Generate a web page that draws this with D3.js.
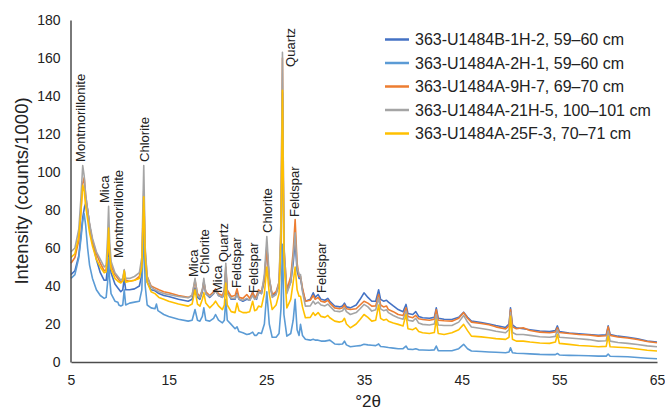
<!DOCTYPE html>
<html>
<head>
<meta charset="utf-8">
<script src="https://cdn.jsdelivr.net/npm/d3@7"></script>
<style>
  html, body { margin: 0; padding: 0; background: #fff; }
  svg { display: block; font-family: "Liberation Sans", Arial, sans-serif; }
</style>
</head>
<body>
<svg id="chart" width="665" height="413"></svg>
<script>
// X-ray diffraction patterns, intensity in counts/1000 against °2θ
const seriesNames = [
  "363-U1484B-1H-2, 59–60 cm",
  "363-U1484A-2H-1, 59–60 cm",
  "363-U1484A-9H-7, 69–70 cm",
  "363-U1484A-21H-5, 100–101 cm",
  "363-U1484A-25F-3, 70–71 cm"
];
const seriesColors = ["#4472C4", "#5B9BD5", "#ED7D31", "#A5A5A5", "#FFC000"];

const xTicks = [5, 15, 25, 35, 45, 55, 65];
const yTicks = [0, 20, 40, 60, 80, 100, 120, 140, 160, 180];

// [°2θ, counts/1000]
const b1H2 = [[5,46],[5.4,48],[5.8,56],[6,66],[6.2,76],[6.4,82],[6.55,84],[6.7,80],[6.9,72],[7.2,63],[7.6,54],[8,47],[8.4,43],[8.6,43],[8.75,50],[8.85,62],[8.95,55],[9.1,47],[9.5,41],[9.8,39],[10.1,37],[10.3,38],[10.45,44],[10.6,38],[11,38],[11.5,38.5],[12,40],[12.25,46],[12.45,78],[12.6,52],[12.8,42],[13.2,38],[13.6,37.5],[14,36],[14.5,35],[15,34.5],[16,33],[17,32],[17.4,33],[17.7,39],[17.95,34],[18.2,33],[18.45,37],[18.6,42.5],[18.8,36],[19.2,34],[19.6,36],[19.8,38],[20.1,35],[20.5,34],[20.7,36],[20.85,47.8],[21,37],[21.4,33],[21.8,33],[22,36.4],[22.2,33],[22.6,32],[23,33],[23.3,32.5],[23.6,37],[23.8,34],[24,33],[24.2,37],[24.5,36],[24.8,43],[25.05,61],[25.3,43],[25.6,35],[26,36.4],[26.3,40],[26.5,60],[26.65,141.7],[26.8,55],[27.1,37],[27.5,42],[27.75,52],[27.95,64],[28.15,48],[28.35,44],[28.5,44],[28.7,38],[29,32],[29.5,33],[29.8,36.4],[30,34],[30.3,35.5],[30.6,33],[31,32.5],[31.3,33.5],[31.5,32],[32,29.5],[32.5,29],[32.8,29.5],[33,31],[33.2,29],[33.6,28.5],[34.2,30],[34.6,33],[35,36.4],[35.4,34],[35.8,32],[36.2,32],[36.5,38],[36.7,33],[37,32],[37.3,32.5],[37.5,31.5],[38,29.5],[38.5,27.6],[39,26.5],[39.3,30.3],[39.5,25.5],[40,25],[40.3,26.5],[40.6,24],[41,23.3],[41.7,23],[42.2,23.5],[42.4,28.5],[42.6,23],[43.2,22.5],[44,22.4],[44.7,23.5],[45.2,26.2],[45.6,23.5],[46,21.5],[47,20.8],[47.8,20],[48.5,19.2],[49.5,18.2],[49.85,20],[50,28.5],[50.2,19.5],[50.6,18],[51.3,17.5],[52,17],[53,16.3],[54,16],[54.6,16.5],[54.8,19],[55,16],[56,15.3],[57,14.9],[58,14.5],[59,14],[59.8,14.3],[60,19],[60.2,14.5],[61,13.6],[62,13],[63,12.2],[64,11],[65,10.5]];

const a2H1 = [[5,44],[5.4,46],[5.8,55],[6,64],[6.2,74],[6.35,78],[6.5,72],[6.7,60],[6.9,51],[7.2,44],[7.6,38],[8,35],[8.4,33.5],[8.6,34],[8.75,42],[8.85,55],[8.95,44],[9.1,36],[9.5,32],[9.8,31.5],[9.9,30],[10.1,29.5],[10.3,30],[10.45,38],[10.6,30],[11,31],[11.5,31.5],[12,32],[12.25,38],[12.45,70],[12.6,40],[12.8,30],[13.2,28.5],[13.6,28],[13.75,30.5],[13.9,27],[14.5,25],[15,24],[16,22.5],[17,21.5],[17.4,22],[17.7,27.6],[17.95,22],[18.2,21.5],[18.45,24],[18.6,28.5],[18.8,22],[19.2,21.5],[19.6,23],[19.8,25],[20.1,22],[20.5,20.6],[20.7,22],[20.85,33],[21,22],[21.4,19.8],[21.8,17.5],[22,18.5],[22.2,16],[22.6,15.4],[23,14.5],[23.3,14.8],[23.6,15.7],[23.8,14],[24,14],[24.2,15.4],[24.5,15],[24.8,20],[25.05,37],[25.3,20],[25.6,13],[26,13],[26.3,15],[26.5,28],[26.65,62],[26.8,25],[27.1,13.6],[27.5,15],[27.75,22],[27.95,33],[28.15,17],[28.35,14],[28.5,19.8],[28.7,14],[29,12],[29.5,11.5],[29.8,12],[30,11.5],[30.3,11.5],[30.6,11],[31,11],[31.5,11.5],[32,9.5],[32.5,9.3],[32.8,9.5],[33,11],[33.2,9],[33.6,8],[34.2,8.4],[34.6,8.6],[35,9.3],[35.4,9],[35.8,8.8],[36.2,8.6],[36.5,9.5],[36.7,8.2],[37,8],[37.5,7.6],[38,7.3],[38.5,7],[39,7],[39.3,8.4],[39.5,6.8],[40,6.6],[40.3,7],[40.6,6.4],[41,6.3],[41.7,6.2],[42.2,6.4],[42.4,8.4],[42.6,6],[43.2,5.9],[44,5.9],[44.7,7],[45.2,9.3],[45.6,7],[46,5.8],[47,5.5],[47.8,5.3],[48.5,5.1],[49.5,4.9],[49.85,5.3],[50,7.5],[50.2,4.9],[50.6,4.6],[51.3,4.5],[52,4.3],[53,4],[54,3.9],[54.6,3.9],[54.8,4.5],[55,3.7],[56,3.5],[57,3.4],[58,3.3],[59,3.1],[59.8,3.1],[60,4.2],[60.2,3],[61,2.9],[62,2.8],[63,2.4],[64,2],[65,1.7]];

const a9H7 = [[5,52],[5.4,55],[5.8,64],[6,78],[6.2,94],[6.35,97],[6.5,88],[6.7,80],[6.9,72],[7.2,64],[7.6,57],[8,52],[8.4,48],[8.6,48.5],[8.75,58],[8.85,70],[8.95,58],[9.1,51],[9.5,46],[9.8,44],[10.1,42],[10.3,43],[10.45,48],[10.6,43],[11,42.5],[11.5,43],[12,45],[12.25,52],[12.45,90],[12.6,58],[12.8,45],[13.2,40],[13.6,39],[14,38],[14.5,37],[15,36.4],[16,35],[17,34],[17.4,35],[17.7,43],[17.95,36],[18.2,34.5],[18.45,38],[18.6,42],[18.8,37],[19.2,35],[19.6,37],[19.8,38.5],[20.1,36],[20.5,35],[20.7,38],[20.85,50],[21,38],[21.4,34.5],[21.8,35],[22,38.5],[22.2,34],[22.6,33.5],[23,35.5],[23.3,33.5],[23.6,36.5],[23.8,34],[24,35],[24.2,38],[24.5,37],[24.8,44],[25.05,60],[25.3,44],[25.6,35.5],[26,37],[26.3,42],[26.5,70],[26.65,160],[26.8,60],[27.1,38],[27.5,45],[27.75,58],[27.95,75],[28.15,52],[28.35,45],[28.5,45],[28.7,39],[29,32],[29.5,32.5],[29.8,35],[30,33],[30.3,34],[30.6,32],[31,31.5],[31.3,32.5],[31.5,31],[32,28.5],[32.5,28],[32.8,28.5],[33,30],[33.2,28],[33.6,27.6],[34.2,28],[34.6,30],[35,32],[35.4,31],[35.8,29.4],[36.2,29.5],[36.5,35.5],[36.7,30],[37,29],[37.3,29.5],[37.5,27.6],[38,26.5],[38.5,25],[39,24.5],[39.3,28.5],[39.5,24],[40,23.3],[40.3,24.5],[40.6,22.8],[41,22.4],[41.7,22],[42.2,22.5],[42.4,27.5],[42.6,22],[43.2,21.7],[44,21.5],[44.7,23],[45.2,26],[45.6,23],[46,21],[47,20.3],[47.8,19.6],[48.5,18.5],[49.5,17.4],[49.85,19],[50,27.6],[50.2,18.5],[50.6,17.5],[51.3,18],[52,16.6],[53,15.7],[54,15.4],[54.6,15.8],[54.8,18],[55,15.5],[56,15],[57,14.5],[58,14.2],[59,13.6],[59.8,13.8],[60,18.5],[60.2,14],[61,13.2],[62,12.6],[63,11.8],[64,10.8],[65,10.1]];

const a21H5 = [[5,58],[5.4,60],[5.8,70],[6,85],[6.2,103.4],[6.35,98],[6.5,88],[6.7,80],[6.9,73],[7.2,65],[7.6,58],[8,54],[8.4,50],[8.6,51],[8.75,66],[8.85,82],[8.95,64],[9.1,53],[9.5,47],[9.8,45],[10.1,43],[10.3,44],[10.45,48.6],[10.6,44],[11,44],[11.5,45],[12,47],[12.25,55],[12.45,103.4],[12.6,60],[12.8,45],[13.2,39.5],[13.6,38],[14,37],[14.5,36],[15,35.5],[16,34.5],[17,33.8],[17.4,35],[17.7,44],[17.95,35],[18.2,33.8],[18.45,38],[18.6,44],[18.8,36],[19.2,34.5],[19.6,36],[19.8,37.5],[20.1,35],[20.5,34],[20.7,37],[20.85,52],[21,36],[21.4,33.5],[21.8,33.5],[22,35.5],[22.2,33],[22.6,32.5],[23,33.5],[23.3,32.5],[23.6,35],[23.8,33],[24,33.5],[24.2,36.5],[24.5,36],[24.8,46],[25.05,66],[25.3,45],[25.6,34],[26,35.5],[26.3,42],[26.5,75],[26.65,163],[26.8,62],[27.1,36],[27.5,42],[27.75,55],[27.95,68],[28.15,50],[28.35,46],[28.5,46],[28.7,37],[29,29.4],[29.5,29.5],[29.8,32],[30,30.5],[30.3,31.5],[30.6,30],[31,29.5],[31.3,30.5],[31.5,29.4],[32,26.8],[32.5,26.5],[32.8,27],[33,28.5],[33.2,26.5],[33.6,25],[34.2,26],[34.6,28],[35,30.3],[35.4,29],[35.8,26.8],[36.2,27.5],[36.5,33.8],[36.7,28],[37,27],[37.3,27.5],[37.5,26],[38,24.5],[38.5,23.3],[39,22.5],[39.3,26.8],[39.5,22],[40,21.5],[40.3,23],[40.6,20.5],[41,19.8],[41.7,19.5],[42.2,20],[42.4,25],[42.6,19.5],[43.2,19.2],[44,19.2],[44.7,21],[45.2,24.5],[45.6,21],[46,18.4],[47,17.6],[47.8,17],[48.5,16.2],[49.5,15.4],[49.85,17],[50,26],[50.2,15.5],[50.6,14.5],[51.3,14.5],[52,14],[53,13.3],[54,13],[54.6,13.5],[54.8,17],[55,13],[56,12.6],[57,12.2],[58,11.8],[59,11],[59.8,11.2],[60,16.3],[60.2,11],[61,10.3],[62,9.8],[63,9.2],[64,8.5],[65,8]];

const a25F3 = [[5,55],[5.4,57],[5.8,66],[6,78],[6.2,93],[6.35,90],[6.5,82],[6.7,75],[6.9,68],[7.2,61],[7.6,54],[8,50],[8.4,47],[8.6,47.5],[8.75,58],[8.85,70.5],[8.95,57],[9.1,49],[9.5,44],[9.8,42.5],[10.1,41.6],[10.3,42.5],[10.45,48],[10.6,42],[11,42.5],[11.5,43],[12,44],[12.25,50],[12.45,87],[12.6,55],[12.8,42],[13.2,37],[13.6,36],[14,34],[14.5,33],[15,32],[16,30.5],[17,29.4],[17.4,30.5],[17.7,38],[17.95,30.5],[18.2,29.4],[18.45,33],[18.6,36.4],[18.8,31],[19.2,28.5],[19.6,30.5],[19.8,32],[20.1,29.5],[20.5,27.6],[20.7,30],[20.85,41.6],[21,30],[21.4,26.5],[21.8,26],[22,31],[22.2,27],[22.6,26],[23,26],[23.3,26.5],[23.6,32],[23.8,27],[24,27.5],[24.2,29.4],[24.5,29],[24.8,36],[25.05,50],[25.3,36],[25.6,27.6],[26,30],[26.3,36],[26.5,65],[26.65,143],[26.8,55],[27.1,28.5],[27.5,33],[27.75,42],[27.95,50],[28.15,38],[28.35,34.6],[28.5,34.6],[28.7,29],[29,23.3],[29.5,23.5],[29.8,26],[30,24.5],[30.3,26],[30.6,24],[31,23.5],[31.3,24.5],[31.5,23.3],[32,21.5],[32.5,21],[32.8,21.5],[33,23],[33.2,20],[33.6,18],[34.2,20],[34.6,22.4],[35,25],[35.4,23.5],[35.8,21.5],[36.2,22],[36.5,30],[36.7,23],[37,22],[37.3,22.5],[37.5,21.5],[38,20.5],[38.5,19.8],[39,19],[39.3,25],[39.5,17.5],[40,17],[40.3,18],[40.6,16],[41,15.4],[41.7,15],[42.2,15.5],[42.4,22.4],[42.6,15],[43.2,14.5],[44,15.4],[44.7,17],[45.2,19.8],[45.6,16.5],[46,13.6],[47,13.2],[47.8,12.8],[48.5,12.3],[49.5,11.9],[49.85,13],[50,24],[50.2,12],[50.6,11],[51.3,11],[52,10.5],[53,10],[54,9.8],[54.6,10.5],[54.8,14.5],[55,9.8],[56,9.3],[57,8.7],[58,8.4],[59,8],[59.8,8.2],[60,13.6],[60.2,8],[61,7.8],[62,7.5],[63,6.8],[64,6.2],[65,5.8]];

const seriesData = [b1H2, a2H1, a9H7, a21H5, a25F3];

// Mineral peak labels: name, °2θ and intensity at the foot of the label
const peakNames = ["Montmorillonite", "Mica", "Montmorillonite", "Chlorite", "Mica", "Chlorite", "Mica", "Quartz",
                   "Feldspar", "Feldspar", "Chlorite", "Quartz", "Feldspar", "Feldspar"];
const peakTheta = [5.98, 8.38, 9.81, 12.47, 17.49, 18.7, 19.94, 20.6, 21.95, 23.63, 25.06, 27.47, 27.82, 30.59];
const peakLevel = [105.3, 83.7, 54.7, 105.3, 44.7, 46.3, 36.3, 52.6, 38.9, 36.3, 67.9, 155.3, 76.3, 36.3];

const svg = d3.select("#chart");
const margin = { left: 71, right: 8, top: 20, bottom: 51 };
const W = 665, H = 413;

const x = d3.scaleLinear().domain([5, 65]).range([margin.left, W - margin.right]);
const y = d3.scaleLinear().domain([0, 180]).range([H - margin.bottom, margin.top]);

// Traces
const line = d3.line().x(d => x(d[0])).y(d => y(d[1]));
svg.append("g").selectAll("path")
  .data(seriesData)
  .join("path")
  .attr("d", line)
  .attr("fill", "none")
  .attr("stroke", (d, i) => seriesColors[i])
  .attr("stroke-width", 1.6)
  .attr("stroke-linejoin", "round");

// Axes
const axisColor = "#4d4d4d";
const xAxis = svg.append("g")
  .attr("transform", `translate(0,${y(0)})`)
  .call(d3.axisBottom(x).tickValues(xTicks).tickSize(0).tickPadding(13).tickFormat(d3.format("d")));
const yAxis = svg.append("g")
  .attr("transform", `translate(${x(5) - 0.5},0)`)
  .call(d3.axisLeft(y).tickValues(yTicks).tickSize(0).tickPadding(10).tickFormat(d3.format("d")));
[xAxis, yAxis].forEach(g => {
  g.select(".domain").attr("stroke", axisColor).attr("stroke-width", 1.5);
  g.selectAll("text").attr("font-size", 14).attr("fill", "#222")
    .attr("font-family", "Liberation Sans, Arial, sans-serif");
});

// Axis titles
svg.append("text")
  .attr("x", 368).attr("y", 407)
  .attr("text-anchor", "middle")
  .attr("font-size", 17).attr("fill", "#222")
  .text("°2θ");
svg.append("text")
  .attr("transform", `translate(28,${y(90)}) rotate(-90)`)
  .attr("text-anchor", "middle")
  .attr("font-size", 18.5).attr("fill", "#222")
  .text("Intensity (counts/1000)");

// Peak labels
svg.append("g").selectAll("text")
  .data(peakNames)
  .join("text")
  .attr("transform", (d, i) => `translate(${x(peakTheta[i])},${y(peakLevel[i])}) rotate(-90)`)
  .attr("dy", "0.36em")
  .attr("font-size", 13).attr("fill", "#222")
  .text(d => d);

// Legend
const legend = svg.append("g").attr("transform", "translate(385,39.5)");
const rows = legend.selectAll("g").data(seriesNames).join("g")
  .attr("transform", (d, i) => `translate(0,${i * 23.5})`);
rows.append("line").attr("x1", 0).attr("x2", 24).attr("y1", 0).attr("y2", 0)
  .attr("stroke", (d, i) => seriesColors[i]).attr("stroke-width", 2.5);
rows.append("text").attr("x", 30).attr("dy", "0.35em")
  .attr("font-size", 16).attr("fill", "#222")
  .text(d => d);
</script>
</body>
</html>
